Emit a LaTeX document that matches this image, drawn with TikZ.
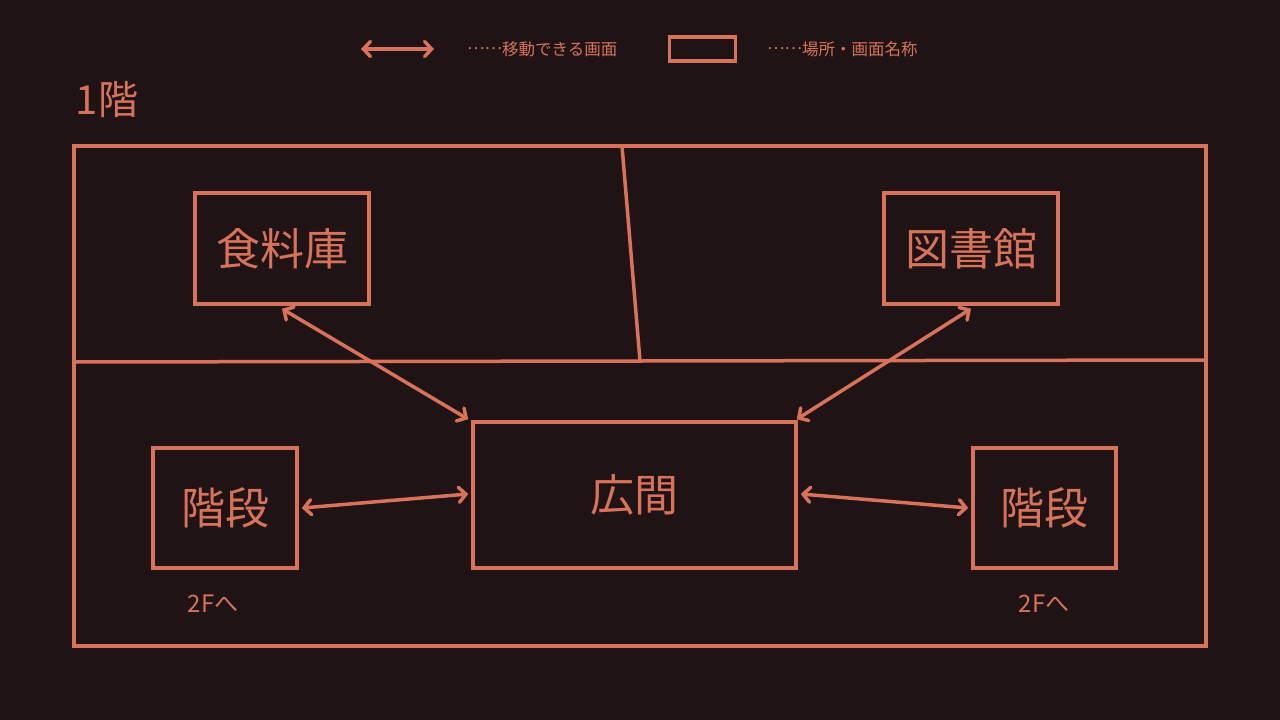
\documentclass[tikz,border=0pt]{standalone}
\usepackage{fontspec}
\setmainfont{Noto Sans CJK JP}
\usetikzlibrary{arrows.meta}
\definecolor{bgc}{HTML}{1F1316}
\definecolor{lnc}{HTML}{D87359}
\newcommand{\middots}{\raisebox{0.33em}{……}}
\tikzset{
  roombox/.style={draw=lnc, line width=3.5pt, text=lnc, inner sep=0pt, font=\fontsize{44}{48}\selectfont},
  arr/.style={draw=lnc, line width=3.5pt, line cap=round, {Straight Barb[length=7pt,width=15pt,line width=3.5pt,line cap=round]}-{Straight Barb[length=7pt,width=15pt,line width=3.5pt,line cap=round]}},
  wall/.style={draw=lnc, line width=3.5pt},
  lbl/.style={text=lnc, inner sep=0pt}
}
\begin{document}
\begin{tikzpicture}[x=1pt,y=-1pt]
\fill[bgc] (0,0) rectangle (1280,720);
\useasboundingbox (0,0) rectangle (1280,720);
% legend
\coordinate (la) at (361,49);
\coordinate (lb) at (434,49);
\draw[arr, line width=4pt] (la) -- (lb);
\node[lbl, anchor=west, font=\fontsize{16.5}{18}\selectfont] (lt1) at (467,49) {\middots 移動できる画面};
\node[draw=lnc, line width=3.5pt, minimum width=66pt, minimum height=24pt, inner sep=0pt] (lbox) at (702.5,49) {};
\node[lbl, anchor=west, font=\fontsize{16.5}{18}\selectfont] (lt2) at (767,49) {\middots 場所・画面名称};
% floor title
\node[lbl, font=\fontsize{40}{44}\selectfont] (title) at (107,100) {1階};
% frame
\draw[wall] (74,146) rectangle (1206,646);
\coordinate (hl) at (74,362);
\coordinate (hr) at (1206,360);
\coordinate (vt) at (622,146);
\coordinate (vb) at (640,361);
\draw[wall] (hl) -- (hr);
\draw[wall] (vt) -- (vb);
% rooms
\node[roombox, minimum width=174pt, minimum height=111pt] (shoku) at (282,248.5) {食料庫};
\node[roombox, minimum width=174pt, minimum height=111pt] (tosho) at (971,248.5) {図書館};
\node[roombox, minimum width=323pt, minimum height=146pt] (hiroma) at (634.5,495) {広間};
\node[roombox, minimum width=144pt, minimum height=120pt] (kaiL) at (225,508) {階段};
\node[roombox, minimum width=143pt, minimum height=120pt] (kaiR) at (1044.5,508) {階段};
\node[lbl, font=\fontsize{24}{26}\selectfont] (fL) at (213,604) {2Fへ};
\node[lbl, font=\fontsize{24}{26}\selectfont] (fR) at (1044,604) {2Fへ};
% connectors
\draw[arr] ([yshift=-3pt]shoku.south) -- ([xshift=-3pt,yshift=1pt]hiroma.north west);
\draw[arr] ([yshift=-3pt]tosho.south) -- ([xshift=-1pt,yshift=1pt]hiroma.north east);
\draw[arr] ([xshift=3pt]kaiL.east) -- ([xshift=-3pt,yshift=1pt]hiroma.west);
\draw[arr] ([xshift=3pt,yshift=1pt]hiroma.east) -- ([xshift=-3pt]kaiR.west);
\end{tikzpicture}
\end{document}
